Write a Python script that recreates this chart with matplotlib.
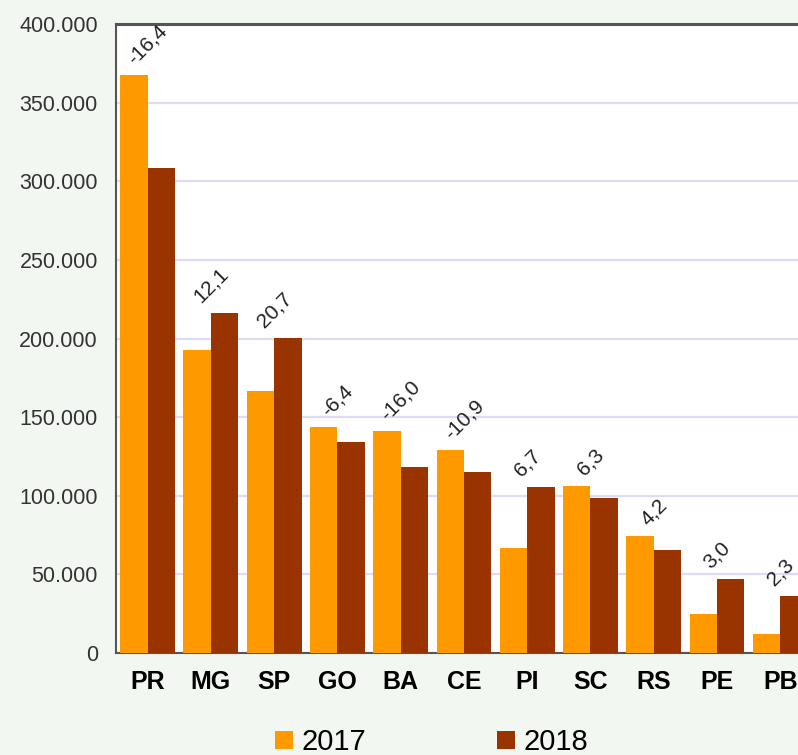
import matplotlib
matplotlib.use('Agg')
import matplotlib.pyplot as plt
import matplotlib.ticker as mticker
import numpy as np

plt.rcParams['font.family'] = ['Liberation Sans', 'DejaVu Sans']

estados = ['PR', 'MG', 'SP', 'GO', 'BA', 'CE', 'PI', 'SC', 'RS', 'PE', 'PB']
valores_2017 = [367600, 192700, 166600, 143500, 141200, 129100, 67000, 106200, 74600, 24800, 11900]
valores_2018 = [308400, 216400, 200700, 134000, 118500, 115300, 105400, 98600, 65500, 46900, 36200]
variacao = ['-16,4', '12,1', '20,7', '-6,4', '-16,0', '-10,9', '6,7', '6,3', '4,2', '3,0', '2,3']

COR_2017 = '#FF9900'
COR_2018 = '#993300'

fig = plt.figure(figsize=(7.98, 7.55), dpi=100, facecolor='#F3F7F2')
# eixo se estende um pouco além da borda direita
ax = fig.add_axes([0.1454, 0.135, 0.872, 0.833])
ax.set_facecolor('white')

x = np.arange(len(estados))
w = 0.434
ax.bar(x - w / 2, valores_2017, width=w, color=COR_2017, label='2017', zorder=3)
ax.bar(x + w / 2, valores_2018, width=w, color=COR_2018, label='2018', zorder=3)

for i, txt in enumerate(variacao):
    topo = max(valores_2017[i], valores_2018[i])
    ax.annotate(txt, (x[i], topo), xytext=(0, 5), textcoords='offset points',
                ha='center', va='bottom', rotation=45, fontsize=15, color='#222222')

ax.set_xlim(-0.5, len(estados) - 0.5)
ax.set_ylim(0, 400000)
ax.yaxis.set_major_locator(mticker.MultipleLocator(50000))
ax.yaxis.set_major_formatter(mticker.FuncFormatter(lambda v, p: f'{int(v):,}'.replace(',', '.')))
ax.grid(axis='y', color='#DCDCF6', linewidth=1.6, zorder=0)
ax.set_axisbelow(True)

ax.set_xticks(x)
ax.set_xticklabels(estados, fontsize=18, fontweight='bold', color='black')
ax.tick_params(axis='x', length=0, pad=12)
ax.tick_params(axis='y', length=0, pad=13, labelsize=15.5, labelcolor='#333333')

for lado in ['left', 'bottom', 'top']:
    ax.spines[lado].set_color('#555555')
    ax.spines[lado].set_linewidth(1.5)
ax.spines['top'].set_linewidth(2.2)
ax.spines['right'].set_visible(False)

fig.legend(loc='center', bbox_to_anchor=(0.541, 0.017), ncol=2, frameon=False,
           fontsize=21, handlelength=0.6, handleheight=0.6, handletextpad=0.3,
           columnspacing=4.5)

plt.savefig('out.png', dpi=100, facecolor=fig.get_facecolor())
